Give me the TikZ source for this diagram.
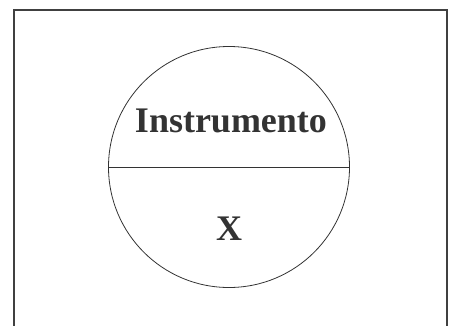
\documentclass[tikz,border=0pt]{standalone}
\usepackage{fontspec}
\setmainfont{Liberation Serif}
\begin{document}
\begin{tikzpicture}[x=1pt,y=-1pt,
  frame/.style={draw=black!75,line width=2pt},
  disc/.style={draw=black!80,line width=0.8pt,circle,minimum size=241pt,inner sep=0pt},
  lbl/.style={anchor=base,text=black!80,font=\bfseries\fontsize{36}{40}\selectfont,inner sep=0pt}]
\useasboundingbox (0,0) rectangle (450,325);
\draw[frame] (14,330) -- (14,10) -- (447,10) -- (447,330);
\node[disc] (c) at (229,167) {};
\draw[black!80,line width=0.8pt] (c.west) -- (c.east);
\node[lbl] (t) at (231,132) {Instrumento};
\node[lbl] (x) at (229,240) {X};
\end{tikzpicture}
\end{document}
